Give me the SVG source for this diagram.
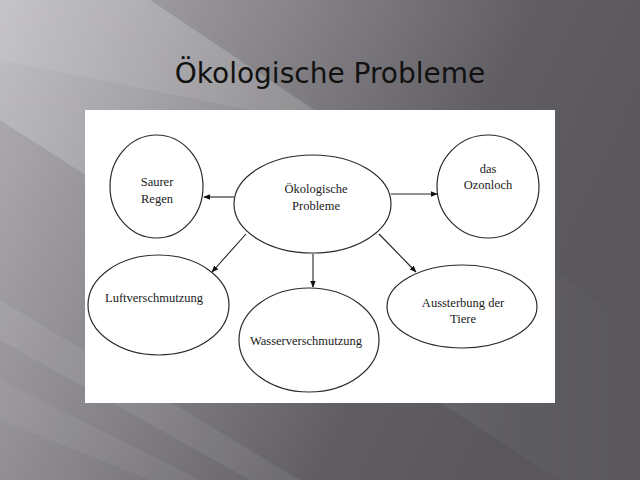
<svg xmlns="http://www.w3.org/2000/svg" width="640" height="480" viewBox="0 0 640 480">
  <defs>
    <linearGradient id="bg" x1="0" y1="0" x2="1" y2="0.35">
      <stop offset="0" stop-color="#b3b1b6"/>
      <stop offset="0.35" stop-color="#8d8b90"/>
      <stop offset="0.75" stop-color="#605e63"/>
      <stop offset="1" stop-color="#59575c"/>
    </linearGradient>
    <linearGradient id="fadeL" x1="0" y1="0" x2="1" y2="0">
      <stop offset="0" stop-color="#ffffff" stop-opacity="0.18"/>
      <stop offset="1" stop-color="#ffffff" stop-opacity="0"/>
    </linearGradient>
    <marker id="arr" viewBox="0 0 10 10" refX="9" refY="5" markerWidth="7" markerHeight="7" orient="auto" markerUnits="userSpaceOnUse">
      <path d="M0,1 L10,5 L0,9 Z" fill="#111"/>
    </marker>
    <style>
      .node ellipse { fill: #ffffff; stroke: #2a2a2a; stroke-width: 1.2; }
      .lbl { font-family: "Liberation Serif", "Times New Roman", serif; font-size: 12.5px; fill: #1a1a1a; text-anchor: middle; }
      .conn line { stroke: #222; stroke-width: 1.1; marker-end: url(#arr); }
    </style>
  </defs>

  <!-- background -->
  <rect x="0" y="0" width="640" height="480" fill="url(#bg)"/>
  <polygon points="0,0 150,0 360,140 640,330 640,480 560,480 0,120" fill="url(#fadeL)"/>
  <polygon points="0,0 150,0 340,128 0,60" fill="#ffffff" opacity="0.08"/>
  <polygon points="0,300 0,340 250,480 300,480" fill="#ffffff" opacity="0.07"/>
  <polygon points="0,380 0,420 150,480 200,480" fill="#ffffff" opacity="0.05"/>

  <text x="330" y="83" font-family="DejaVu Sans, sans-serif" font-size="28" fill="#111" text-anchor="middle">Ökologische Probleme</text>

  <rect x="85" y="110" width="470" height="293" fill="#ffffff"/>

  <g class="conn">
    <line x1="234" y1="197" x2="204" y2="197"/>
    <line x1="391" y1="194" x2="437" y2="194"/>
    <line x1="246" y1="234" x2="212" y2="272"/>
    <line x1="313" y1="254" x2="313" y2="287"/>
    <line x1="379" y1="234" x2="416" y2="272"/>
  </g>

  <g id="center" class="node">
    <ellipse cx="312.5" cy="204" rx="78.5" ry="49"/>
    <text class="lbl" x="316" y="193">Ökologische</text>
    <text class="lbl" x="316" y="210">Probleme</text>
  </g>
  <g id="saurer" class="node">
    <ellipse cx="156.5" cy="186.5" rx="46.5" ry="51.5"/>
    <text class="lbl" x="157" y="186">Saurer</text>
    <text class="lbl" x="157" y="203">Regen</text>
  </g>
  <g id="ozon" class="node">
    <ellipse cx="488" cy="186.5" rx="51" ry="51.5"/>
    <text class="lbl" x="488" y="173">das</text>
    <text class="lbl" x="488" y="189">Ozonloch</text>
  </g>
  <g id="luft" class="node">
    <ellipse cx="158.5" cy="305" rx="70.5" ry="50"/>
    <text class="lbl" x="154" y="302">Luftverschmutzung</text>
  </g>
  <g id="wasser" class="node">
    <ellipse cx="309" cy="340" rx="70" ry="52"/>
    <text class="lbl" x="306" y="345">Wasserverschmutzung</text>
  </g>
  <g id="tiere" class="node">
    <ellipse cx="462" cy="306.5" rx="75" ry="41.5"/>
    <text class="lbl" x="463" y="307">Aussterbung der</text>
    <text class="lbl" x="463" y="323">Tiere</text>
  </g>
</svg>
